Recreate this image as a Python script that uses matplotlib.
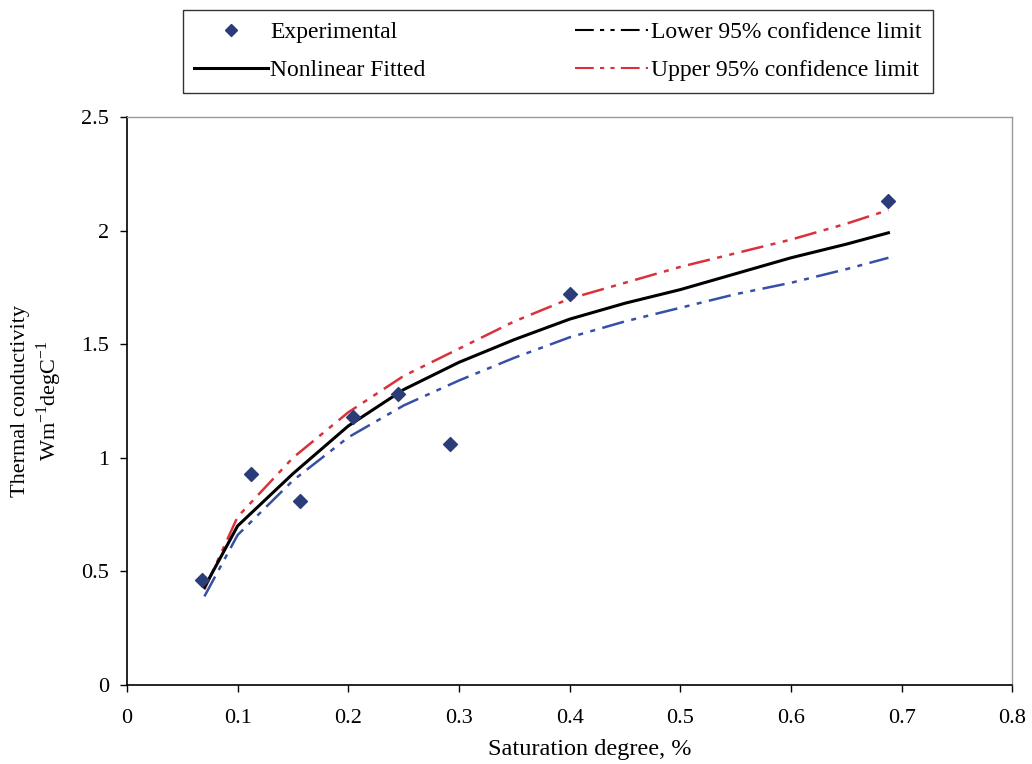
import matplotlib
matplotlib.use('Agg')
import matplotlib.pyplot as plt
from matplotlib.lines import Line2D

plt.rcParams['font.family'] = ['Liberation Serif', 'DejaVu Serif']
plt.rcParams['mathtext.fontset'] = 'custom'
plt.rcParams['mathtext.rm'] = 'Liberation Serif'

# ── Data ────────────────────────────────────────────────────────
sat_exp  = [0.068, 0.112, 0.156, 0.204, 0.245, 0.292, 0.400, 0.688]
k_exp    = [0.46, 0.93, 0.81, 1.18, 1.28, 1.06, 1.72, 2.13]

sat_fit  = [0.07, 0.10, 0.15, 0.20, 0.25, 0.30, 0.35, 0.40, 0.45, 0.50, 0.55, 0.60, 0.65, 0.688]
k_fit    = [0.43, 0.70, 0.93, 1.14, 1.30, 1.42, 1.52, 1.61, 1.68, 1.74, 1.81, 1.88, 1.94, 1.99]
k_upper  = [0.42, 0.74, 1.00, 1.20, 1.36, 1.48, 1.60, 1.70, 1.77, 1.84, 1.90, 1.96, 2.03, 2.09]
k_lower  = [0.39, 0.66, 0.90, 1.09, 1.23, 1.34, 1.44, 1.53, 1.60, 1.66, 1.72, 1.77, 1.83, 1.88]

BLUE = '#3650a8'
RED  = '#d8323c'
NAVY = '#2b3d78'
DASH = (0, (9, 3, 2, 3, 2, 3))

fig = plt.figure(figsize=(10.32, 7.64), dpi=100)
ax = fig.add_axes([0.123, 0.1034, 0.858, 0.7436])

ax.plot(sat_fit, k_lower, color=BLUE, lw=1.8, ls=DASH)
ax.plot(sat_fit, k_upper, color=RED, lw=1.8, ls=DASH)
ax.plot(sat_fit, k_fit, color='black', lw=2.2)
ax.scatter(sat_exp, k_exp, marker='D', s=50, color=NAVY, zorder=5)

ax.set_xlim(0, 0.8)
ax.set_ylim(0, 2.5)
ax.set_xticks([0, 0.1, 0.2, 0.3, 0.4, 0.5, 0.6, 0.7, 0.8])
ax.set_xticklabels(['0', '0.1', '0.2', '0.3', '0.4', '0.5', '0.6', '0.7', '0.8'])
ax.set_yticks([0, 0.5, 1, 1.5, 2, 2.5])
ax.set_yticklabels(['0', '0.5', '1', '1.5', '2', '2.5'])
ax.tick_params(direction='out', length=5, width=1, labelsize=16, colors='black')
ax.tick_params(axis='x', pad=12)
ax.tick_params(axis='y', pad=8)

for sp in ['left', 'bottom']:
    ax.spines[sp].set_color('black')
    ax.spines[sp].set_linewidth(1.2)
for sp in ['top', 'right']:
    ax.spines[sp].set_color('#9a9a9a')
    ax.spines[sp].set_linewidth(1.0)

ax.set_xlabel('Saturation degree, %', fontsize=17.5)
ax.xaxis.set_label_coords(0.523, -0.095)
ax.set_ylabel('Thermal conductivity\nWm$^{\\mathregular{-1}}$degC$^{\\mathregular{-1}}$',
              fontsize=16, labelpad=12)

handles = [
    Line2D([], [], marker='D', color=NAVY, ls='none', ms=6),
    Line2D([], [], color='black', lw=2.2),
    Line2D([], [], color='black', lw=1.5, ls=DASH),
    Line2D([], [], color=RED, lw=1.5, ls=DASH),
]
labels = ['Experimental', 'Nonlinear Fitted',
          'Lower 95% confidence limit', 'Upper 95% confidence limit']
leg = fig.legend(handles, labels, ncol=2, mode='expand',
                 bbox_to_anchor=(0.177, 0.878, 0.727, 0.111), loc='lower left',
                 fontsize=17, frameon=True, fancybox=False, edgecolor='black',
                 handlelength=3.1, handletextpad=0.12, labelspacing=0.7,
                 borderpad=0.5, borderaxespad=0, columnspacing=6)
leg.get_frame().set_linewidth(1.0)

plt.savefig('out.png', dpi=100, facecolor='white')
